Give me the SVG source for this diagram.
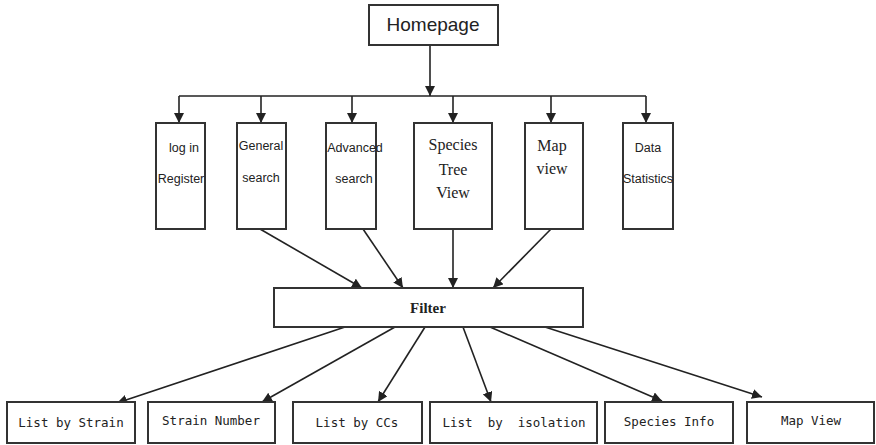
<svg xmlns="http://www.w3.org/2000/svg" width="876" height="445" viewBox="0 0 876 445">
<style>
.box{fill:#fff;stroke:#333;stroke-width:2}
.ln{fill:none;stroke:#222;stroke-width:1.6}
.arr{marker-end:url(#ah)}
.sans{font-family:"Liberation Sans","DejaVu Sans",sans-serif;font-size:12.5px;fill:#222;text-anchor:middle}
.serif{font-family:"Liberation Serif","DejaVu Serif",serif;font-size:16px;fill:#222;text-anchor:middle}
.mono{font-family:"DejaVu Sans Mono","Liberation Mono",monospace;font-size:12.5px;fill:#222;text-anchor:middle;white-space:pre}
</style>
<defs>
<marker id="ah" viewBox="0 0 10 10" refX="10" refY="5" markerWidth="10" markerHeight="10" markerUnits="userSpaceOnUse" orient="auto">
<path d="M0,0 L10,5 L0,10 z" fill="#222"/>
</marker>
</defs>
<g id="connectors">
<path class="ln arr" d="M430,45 V96"/>
<path class="ln" d="M179,96 H646"/>
<path class="ln arr" d="M179,96 V123"/>
<path class="ln arr" d="M261,96 V123"/>
<path class="ln arr" d="M352,96 V123"/>
<path class="ln arr" d="M453,96 V123"/>
<path class="ln arr" d="M551,96 V123"/>
<path class="ln arr" d="M646,96 V123"/>
<path class="ln arr" d="M260,229 L362,288"/>
<path class="ln arr" d="M363,229 L403,288"/>
<path class="ln arr" d="M453,229 L453,288"/>
<path class="ln arr" d="M551,229 L493,288"/>
<path class="ln arr" d="M345,327 L117,403"/>
<path class="ln arr" d="M395,327 L262,402"/>
<path class="ln arr" d="M425,327 L378,402"/>
<path class="ln arr" d="M463,327 L491,402"/>
<path class="ln arr" d="M490,327 L662,401"/>
<path class="ln arr" d="M545,327 L762,397"/>
</g>
<g id="homepage"><rect class="box" x="369" y="5" width="129" height="40"/><text x="433" y="31" style="font-family:'Liberation Sans','DejaVu Sans',sans-serif;font-size:19px;fill:#222;text-anchor:middle">Homepage</text></g>
<g id="login"><rect class="box" x="156" y="123" width="49" height="106"/><text class="sans" x="184" y="152">log in</text><text class="sans" x="181" y="183">Register</text></g>
<g id="general"><rect class="box" x="237" y="123" width="49" height="106"/><text class="sans" x="261" y="150">General</text><text class="sans" x="261" y="182">search</text></g>
<g id="advanced"><rect class="box" x="326" y="123" width="50" height="106"/><text class="sans" x="355" y="152">Advanced</text><text class="sans" x="354" y="183">search</text></g>
<g id="species"><rect class="box" x="414" y="123" width="78" height="106"/><text class="serif" x="453" y="150">Species</text><text class="serif" x="453" y="175">Tree</text><text class="serif" x="453" y="198">View</text></g>
<g id="mapview"><rect class="box" x="525" y="123" width="58" height="106"/><text class="serif" x="552" y="151">Map</text><text class="serif" x="552" y="174">view</text></g>
<g id="data"><rect class="box" x="623" y="123" width="50" height="106"/><text class="sans" x="648" y="152">Data</text><text class="sans" x="648" y="183">Statistics</text></g>
<g id="filter"><rect class="box" x="274" y="288" width="309" height="39"/><text class="serif" x="428" y="313" style="font-weight:bold;font-size:15px">Filter</text></g>
<g id="liststrain"><rect class="box" x="7" y="402" width="128" height="41"/><text class="mono" x="71" y="427">List by Strain</text></g>
<g id="strainnumber"><rect class="box" x="148" y="402" width="127" height="41"/><text class="mono" x="211" y="425">Strain Number</text></g>
<g id="listccs"><rect class="box" x="293" y="402" width="129" height="41"/><text class="mono" x="357" y="427">List by CCs</text></g>
<g id="listisolation"><rect class="box" x="430" y="402" width="167" height="41"/><text class="mono" x="514" y="427" xml:space="preserve">List  by  isolation</text></g>
<g id="speciesinfo"><rect class="box" x="605" y="402" width="128" height="41"/><text class="mono" x="669" y="426">Species Info</text></g>
<g id="mapview2"><rect class="box" x="747" y="402" width="127" height="41"/><text class="mono" x="811" y="425">Map View</text></g>
</svg>
